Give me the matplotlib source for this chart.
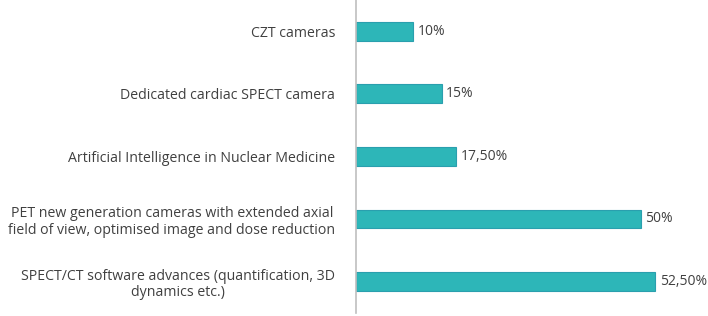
import matplotlib.pyplot as plt

categories = [
    "CZT cameras",
    "Dedicated cardiac SPECT camera",
    "Artificial Intelligence in Nuclear Medicine",
    "PET new generation cameras with extended axial\nfield of view, optimised image and dose reduction",
    "SPECT/CT software advances (quantification, 3D\ndynamics etc.)",
]
values = [10, 15, 17.5, 50, 52.5]
value_labels = ["10%", "15%", "17,50%", "50%", "52,50%"]

plt.rcParams['font.family'] = ['Open Sans', 'DejaVu Sans']

fig = plt.figure(figsize=(7.08, 3.16), dpi=100)
ax = fig.add_axes([0.503, 0.01, 0.497, 0.99])

ypos = range(len(categories))
ax.barh(ypos, values, height=0.3, color='#2db6b8', edgecolor='#2a9fae', linewidth=0.8)
for y, v, lab in zip(ypos, values, value_labels):
    ax.text(v + 0.8, y, lab, va='center', ha='left', fontsize=10, color='#404040')

ax.set_yticks(list(ypos))
ax.set_yticklabels(categories, fontsize=10.2, color='#404040', multialignment='center',
                   linespacing=1.15)
ax.tick_params(axis='y', length=0, pad=15)
ax.set_ylim(-0.5, len(categories) - 0.5)
ax.invert_yaxis()
ax.set_xlim(0, 61.8)
ax.set_xticks([])

for s in ['top', 'right', 'bottom']:
    ax.spines[s].set_visible(False)
ax.spines['left'].set_color('#bfbfbf')
ax.spines['left'].set_linewidth(1.2)

fig.savefig('out.png', dpi=100)
